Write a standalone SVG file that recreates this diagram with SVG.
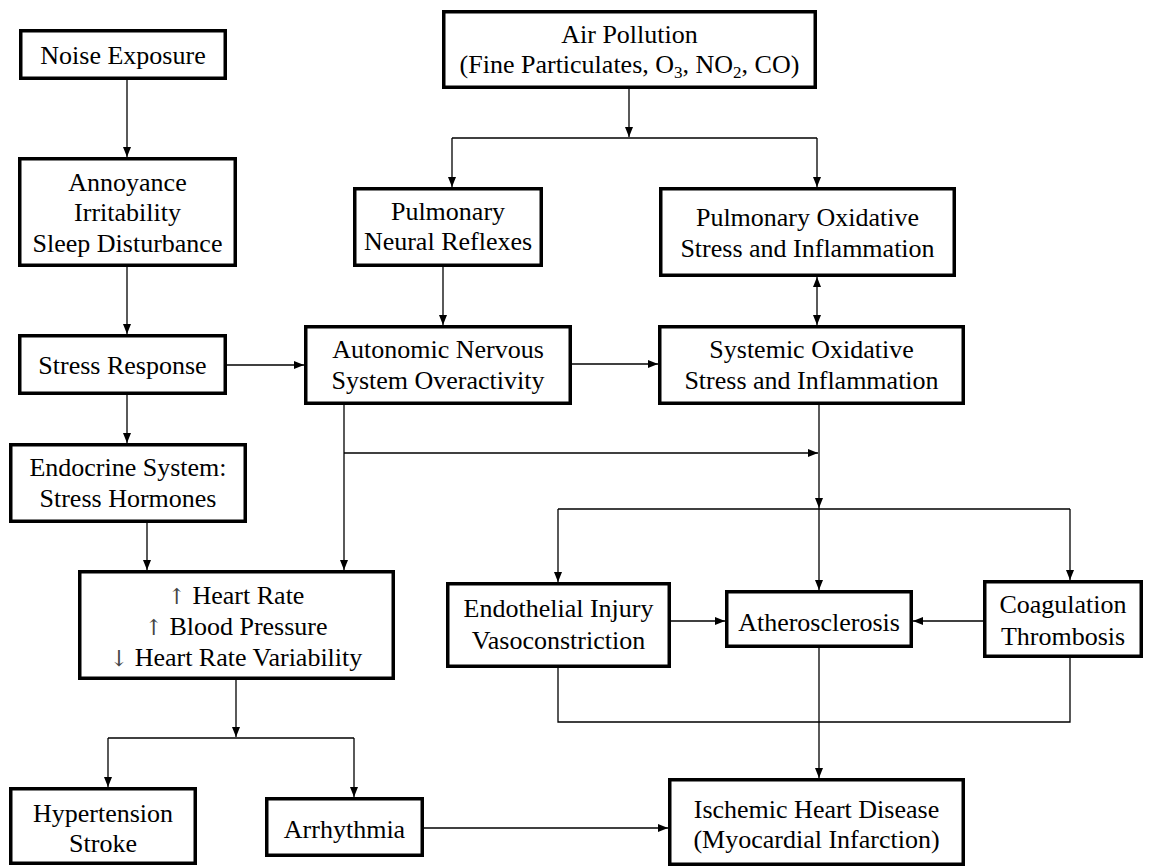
<svg xmlns="http://www.w3.org/2000/svg" width="1149" height="867" viewBox="0 0 1149 867">
<style>
.box{fill:#fff;stroke:#000;stroke-width:3.5}
text{font-family:'Liberation Serif','Times New Roman',serif;font-size:26px;fill:#000;text-anchor:middle}
.ar{font-family:'DejaVu Serif',serif;font-size:22px;fill:#444}
.c{fill:none;stroke:#000;stroke-width:1.3}
.a{marker-end:url(#ah)}
</style>
<defs>
<marker id="ah" markerUnits="userSpaceOnUse" markerWidth="11" markerHeight="9" refX="10" refY="4" orient="auto-start-reverse">
<path d="M0,0 L10,4 L0,8 z" fill="#000"/>
</marker>
</defs>
<rect width="1149" height="867" fill="#fff"/>
<g id="connectors">
<path class="c a" d="M127,80 V157"/>
<path class="c a" d="M127,267 V334"/>
<path class="c a" d="M127,395 V443"/>
<path class="c a" d="M227,365 H304"/>
<path class="c a" d="M147,523 V570"/>
<path class="c a" d="M344,405 V570"/>
<path class="c a" d="M344,453 H818"/>
<path class="c a" d="M629,89 V137"/>
<path class="c" d="M452,138 H817"/>
<path class="c a" d="M452,138 V187"/>
<path class="c a" d="M817,138 V187"/>
<path class="c a" d="M443,267 V325"/>
<path class="c a" d="M817,277 V325" marker-start="url(#ah)"/>
<path class="c a" d="M572,364 H658"/>
<path class="c a" d="M819,405 V508"/>
<path class="c a" d="M819,508 V590"/>
<path class="c" d="M558,509 H1070"/>
<path class="c a" d="M558,509 V582"/>
<path class="c a" d="M1070,509 V580"/>
<path class="c a" d="M671,621 H725"/>
<path class="c a" d="M983,621 H913"/>
<path class="c" d="M558,668 V722 H1070 V658"/>
<path class="c a" d="M819,648 V778"/>
<path class="c a" d="M236,680 V737"/>
<path class="c" d="M108,738 H354"/>
<path class="c a" d="M108,738 V787"/>
<path class="c a" d="M354,738 V797"/>
<path class="c a" d="M424,828 H668"/>
</g>
<g id="noise"><rect class="box" x="20.75" y="30.75" width="204.5" height="47.5"/><text x="123" y="64">Noise Exposure</text></g>
<g id="annoyance"><rect class="box" x="19.75" y="158.75" width="215.5" height="106.5"/><text x="127.5" y="191">Annoyance</text><text x="127.5" y="221">Irritability</text><text x="127.5" y="252">Sleep Disturbance</text></g>
<g id="stress"><rect class="box" x="19.75" y="335.75" width="205.5" height="57.5"/><text x="122.5" y="374">Stress Response</text></g>
<g id="endocrine"><rect class="box" x="10.75" y="444.75" width="234.5" height="76.5"/><text x="128" y="476">Endocrine System:</text><text x="128" y="507">Stress Hormones</text></g>
<g id="heart"><rect class="box" x="79.75" y="571.75" width="313.5" height="106.5"/><text x="236" y="604"><tspan class="ar">↑</tspan> Heart Rate</text><text x="236" y="635"><tspan class="ar">↑</tspan> Blood Pressure</text><text x="236" y="666"><tspan class="ar">↓</tspan> Heart Rate Variability</text></g>
<g id="hypertension"><rect class="box" x="10.75" y="788.75" width="184.5" height="74.5"/><text x="103" y="822">Hypertension</text><text x="103" y="852">Stroke</text></g>
<g id="arrhythmia"><rect class="box" x="266.75" y="798.75" width="155.5" height="56.5"/><text x="344.5" y="838">Arrhythmia</text></g>
<g id="air"><rect class="box" x="443.75" y="11.75" width="371.5" height="75.5"/><text x="629.5" y="43">Air Pollution</text><text x="629.5" y="73">(Fine Particulates, O<tspan font-size="17" dy="5">3</tspan><tspan dy="-5">, NO</tspan><tspan font-size="17" dy="5">2</tspan><tspan dy="-5">, CO)</tspan></text></g>
<g id="neural"><rect class="box" x="354.75" y="188.75" width="186.5" height="76.5"/><text x="448" y="220">Pulmonary</text><text x="448" y="250">Neural Reflexes</text></g>
<g id="pulm-ox"><rect class="box" x="660.75" y="188.75" width="293.5" height="86.5"/><text x="807.5" y="226">Pulmonary Oxidative</text><text x="807.5" y="257">Stress and Inflammation</text></g>
<g id="autonomic"><rect class="box" x="305.75" y="326.75" width="264.5" height="76.5"/><text x="438" y="358">Autonomic Nervous</text><text x="438" y="389">System Overactivity</text></g>
<g id="systemic"><rect class="box" x="659.75" y="326.75" width="303.5" height="76.5"/><text x="811.5" y="358">Systemic Oxidative</text><text x="811.5" y="389">Stress and Inflammation</text></g>
<g id="endothelial"><rect class="box" x="447.75" y="583.75" width="221.5" height="82.5"/><text x="558.5" y="617">Endothelial Injury</text><text x="558.5" y="649">Vasoconstriction</text></g>
<g id="atherosclerosis"><rect class="box" x="726.75" y="591.75" width="184.5" height="54.5"/><text x="819" y="631">Atherosclerosis</text></g>
<g id="coagulation"><rect class="box" x="984.75" y="581.75" width="156.5" height="74.5"/><text x="1063" y="613">Coagulation</text><text x="1063" y="645">Thrombosis</text></g>
<g id="ischemic"><rect class="box" x="669.75" y="779.75" width="293.5" height="84.5"/><text x="816.5" y="818">Ischemic Heart Disease</text><text x="816.5" y="848">(Myocardial Infarction)</text></g>
</svg>
